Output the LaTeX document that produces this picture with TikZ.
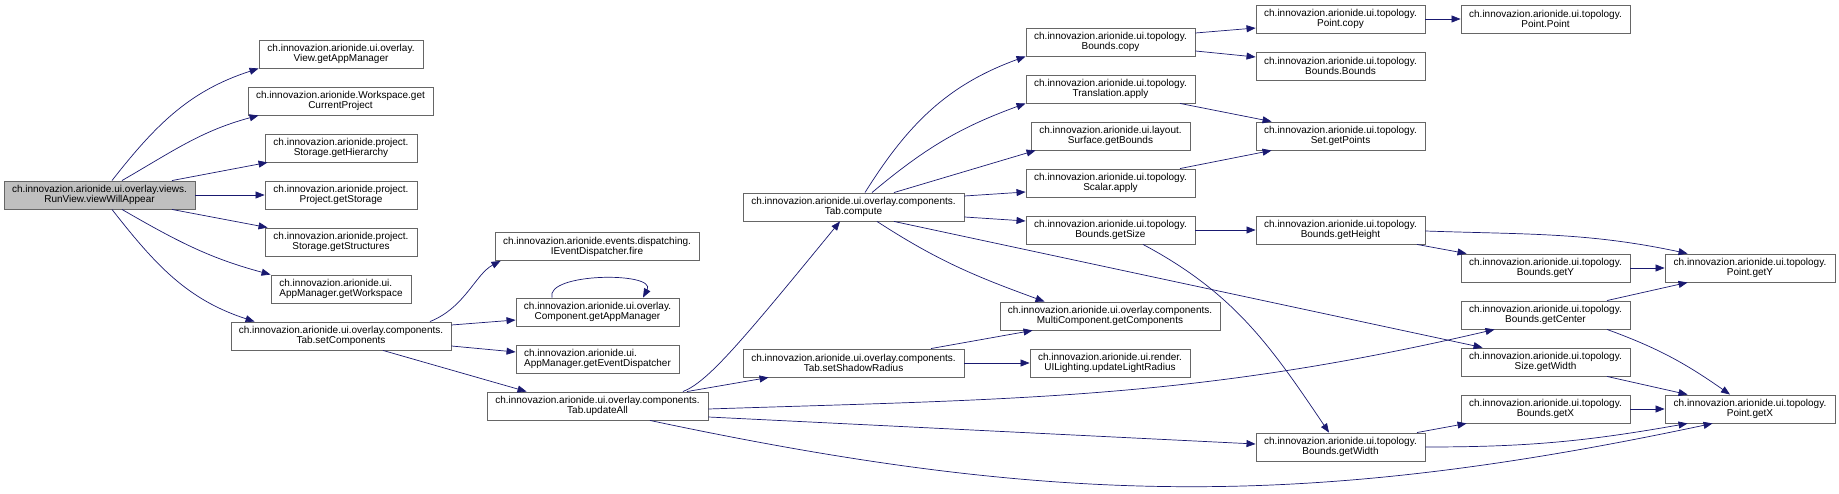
\documentclass[tikz,border=0pt]{standalone}
\usepackage{fontspec}
\setmainfont{Liberation Sans}
\usetikzlibrary{arrows.meta}

\definecolor{edgeblue}{HTML}{191970}
\definecolor{boxline}{HTML}{666666}

\begin{document}
\begin{tikzpicture}[
        x=1pt, y=1pt,
        font=\fontsize{10}{10}\selectfont,
        fn/.style={rectangle, minimum height=28pt, inner sep=0pt, draw=boxline, line width=0.9pt, fill=white, align=center},
        root/.style={fn, fill=black!25},
        arrow/.style={line width=0.7pt, draw=edgeblue, -{Triangle[length=9pt, width=7pt]}}
    ]

        \useasboundingbox (0,0) rectangle (1839,-494);

        % --- Caller ---
        \node (main) [root, minimum width=191pt] at (99.5,-195) {ch.innovazion.arionide.ui.overlay.views.\\RunView.viewWillAppear};

        % --- First level ---
        \node (vgam) [fn, minimum width=164pt] at (341,-54) {ch.innovazion.arionide.ui.overlay.\\View.getAppManager};
        \node (wcp) [fn, minimum width=185pt] at (340.5,-101) {ch.innovazion.arionide.Workspace.get\\CurrentProject};
        \node (sgh) [fn, minimum width=152pt] at (341,-148) {ch.innovazion.arionide.project.\\Storage.getHierarchy};
        \node (pgs) [fn, minimum width=152pt] at (341,-195) {ch.innovazion.arionide.project.\\Project.getStorage};
        \node (sgs) [fn, minimum width=152pt] at (341,-242) {ch.innovazion.arionide.project.\\Storage.getStructures};
        \node (amgw) [fn, minimum width=140pt, align=left] at (341,-289) {ch.innovazion.arionide.ui.\\AppManager.getWorkspace};
        \node (tsc) [fn, minimum width=220pt] at (341,-336) {ch.innovazion.arionide.ui.overlay.components.\\Tab.setComponents};

        % --- Second level ---
        \node (fire) [fn, minimum width=204pt] at (597,-246.5) {ch.innovazion.arionide.events.dispatching.\\IEventDispatcher.fire};
        \node (cgam) [fn, minimum width=163pt] at (597.5,-312) {ch.innovazion.arionide.ui.overlay.\\Component.getAppManager};
        \node (amged) [fn, minimum width=163pt, align=left] at (597.5,-359) {ch.innovazion.arionide.ui.\\AppManager.getEventDispatcher};
        \node (tua) [fn, minimum width=221pt] at (597.5,-406) {ch.innovazion.arionide.ui.overlay.components.\\Tab.updateAll};

        % --- Third level ---
        \node (tcomp) [fn, minimum width=221pt] at (853.5,-207) {ch.innovazion.arionide.ui.overlay.components.\\Tab.compute};
        \node (tssr) [fn, minimum width=221pt] at (853.5,-363) {ch.innovazion.arionide.ui.overlay.components.\\Tab.setShadowRadius};

        % --- Fourth level ---
        \node (bcopy) [fn, minimum width=169pt] at (1110.5,-42) {ch.innovazion.arionide.ui.topology.\\Bounds.copy};
        \node (tapply) [fn, minimum width=169pt] at (1110.5,-89) {ch.innovazion.arionide.ui.topology.\\Translation.apply};
        \node (sgb) [fn, minimum width=159pt] at (1110.5,-136) {ch.innovazion.arionide.ui.layout.\\Surface.getBounds};
        \node (sapply) [fn, minimum width=169pt] at (1110.5,-183) {ch.innovazion.arionide.ui.topology.\\Scalar.apply};
        \node (bgs) [fn, minimum width=169pt] at (1110.5,-230) {ch.innovazion.arionide.ui.topology.\\Bounds.getSize};
        \node (mcgc) [fn, minimum width=220pt] at (1110,-316) {ch.innovazion.arionide.ui.overlay.components.\\MultiComponent.getComponents};
        \node (ulr) [fn, minimum width=160pt] at (1110,-363) {ch.innovazion.arionide.ui.render.\\UILighting.updateLightRadius};

        % --- Fifth level ---
        \node (pcopy) [fn, minimum width=169pt] at (1340.5,-19) {ch.innovazion.arionide.ui.topology.\\Point.copy};
        \node (bb) [fn, minimum width=169pt] at (1340.5,-66) {ch.innovazion.arionide.ui.topology.\\Bounds.Bounds};
        \node (sgp) [fn, minimum width=169pt] at (1340.5,-136) {ch.innovazion.arionide.ui.topology.\\Set.getPoints};
        \node (bgh) [fn, minimum width=169pt] at (1340.5,-230) {ch.innovazion.arionide.ui.topology.\\Bounds.getHeight};
        \node (bgw) [fn, minimum width=169pt] at (1340.5,-447) {ch.innovazion.arionide.ui.topology.\\Bounds.getWidth};

        % --- Sixth level ---
        \node (pp) [fn, minimum width=169pt] at (1545.5,-19) {ch.innovazion.arionide.ui.topology.\\Point.Point};
        \node (bgy) [fn, minimum width=169pt] at (1545.5,-268) {ch.innovazion.arionide.ui.topology.\\Bounds.getY};
        \node (bgc) [fn, minimum width=169pt] at (1545.5,-315) {ch.innovazion.arionide.ui.topology.\\Bounds.getCenter};
        \node (sgw) [fn, minimum width=169pt] at (1545.5,-362) {ch.innovazion.arionide.ui.topology.\\Size.getWidth};
        \node (bgx) [fn, minimum width=169pt] at (1545.5,-409) {ch.innovazion.arionide.ui.topology.\\Bounds.getX};

        % --- Last level ---
        \node (pgy) [fn, minimum width=170pt] at (1750,-268) {ch.innovazion.arionide.ui.topology.\\Point.getY};
        \node (pgx) [fn, minimum width=170pt] at (1750,-409) {ch.innovazion.arionide.ui.topology.\\Point.getX};

        % --- Calls from viewWillAppear ---
        \draw [arrow] ([xshift=12.5pt]main.north) to[out=52, in=198] (vgam.south west);
        \draw [arrow] ([xshift=22.5pt]main.north) to[out=30, in=195] ([xshift=11pt]wcp.south west);
        \draw [arrow] ([xshift=72.5pt]main.north) -- ([xshift=3pt]sgh.south west);
        \draw [arrow] (main.east) -- (pgs.west);
        \draw [arrow] ([xshift=72.5pt]main.south) -- ([xshift=3pt]sgs.north west);
        \draw [arrow] ([xshift=22.5pt]main.south) to[out=-30, in=165] (amgw.north west);
        \draw [arrow] ([xshift=12.5pt]main.south) to[out=-52, in=162] ([xshift=24pt]tsc.north west);

        % --- Calls from setComponents ---
        \draw [arrow] ([xshift=89pt]tsc.north) .. controls +(35,14) and +(-25,-13) .. ([xshift=6pt]fire.south west);
        \draw [arrow] ([yshift=11pt]tsc.east) -- ([yshift=-8pt]cgam.west);
        \draw [arrow] ([yshift=-10pt]tsc.east) -- ([yshift=7pt]amged.west);
        \draw [arrow] ([xshift=42pt]tsc.south) -- ([xshift=40pt]tua.north west);
        \draw [arrow] ([xshift=-45.5pt]cgam.north) .. controls +(-7,25) and +(14,26) .. ([xshift=45.5pt]cgam.north);

        % --- Calls from updateAll ---
        \draw [arrow] ([xshift=85.5pt]tua.north) .. controls +(25,10) and +(-100,-122) .. ([xshift=-13.5pt]tcomp.south);
        \draw [arrow] ([xshift=89.5pt]tua.north) -- ([xshift=26pt]tssr.south west);
        \draw [arrow] ([yshift=-3pt]tua.east) .. controls +(308,10) and +(-300,-70) .. ([xshift=34pt]bgc.south west);
        \draw [arrow] ([yshift=-11pt]tua.east) -- ([yshift=3pt]bgw.west);
        \draw [arrow] ([xshift=52.5pt]tua.south) .. controls +(405,-86) and +(-405,-86) .. ([xshift=48pt]pgx.south west);

        % --- Calls from compute ---
        \draw [arrow] ([xshift=11.5pt]tcomp.north) to[out=58, in=200] (bcopy.south west);
        \draw [arrow] ([xshift=18.5pt]tcomp.north) to[out=40, in=200] (tapply.south west);
        \draw [arrow] ([xshift=40.5pt]tcomp.north) -- ([xshift=5pt]sgb.south west);
        \draw [arrow] ([yshift=11pt]tcomp.east) -- ([yshift=-9pt]sapply.west);
        \draw [arrow] ([yshift=-10pt]tcomp.east) -- ([yshift=9pt]bgs.west);
        \draw [arrow] ([xshift=40.5pt]tcomp.south) -- ([xshift=22pt]sgw.north west);
        \draw [arrow] ([xshift=23.5pt]tcomp.south) to[out=-33, in=160] ([xshift=45pt]mcgc.north west);

        % --- Calls from setShadowRadius ---
        \draw [arrow] ([xshift=77.5pt]tssr.north) -- ([xshift=33pt]mcgc.south west);
        \draw [arrow] (tssr.east) -- (ulr.west);

        % --- Topology calls ---
        \draw [arrow] ([yshift=9pt]bcopy.east) -- ([yshift=-9pt]pcopy.west);
        \draw [arrow] ([yshift=-9pt]bcopy.east) -- ([yshift=9pt]bb.west);
        \draw [arrow] (pcopy.east) -- (pp.west);
        \draw [arrow] ([xshift=69.5pt]tapply.south) -- ([xshift=16pt]sgp.north west);
        \draw [arrow] ([xshift=69.5pt]sapply.north) -- ([xshift=16pt]sgp.south west);
        \draw [arrow] (bgs.east) -- (bgh.west);
        \draw [arrow] ([xshift=32.5pt]bgs.south) to[out=-28, in=124] ([xshift=-11.5pt]bgw.north);
        \draw [arrow] ([yshift=-1pt]bgh.east) to[out=-2, in=168] ([xshift=23pt]pgy.north west);
        \draw [arrow] ([xshift=76.5pt]bgh.south) -- ([xshift=6pt]bgy.north west);
        \draw [arrow] (bgy.east) -- (pgy.west);
        \draw [arrow] ([xshift=61.5pt]bgc.north) -- ([xshift=23pt]pgy.south west);
        \draw [arrow] ([xshift=61.5pt]bgc.south) to[out=-20, in=145] ([xshift=-20pt]pgx.north);
        \draw [arrow] ([xshift=61.5pt]sgw.south) -- ([xshift=23pt]pgx.north west);
        \draw [arrow] (bgx.east) -- (pgx.west);
        \draw [arrow] ([xshift=76.5pt]bgw.north) -- ([xshift=6pt]bgx.south west);
        \draw [arrow] (bgw.east) to[out=0, in=190] ([xshift=23pt]pgx.south west);

    \end{tikzpicture}
\end{document}
